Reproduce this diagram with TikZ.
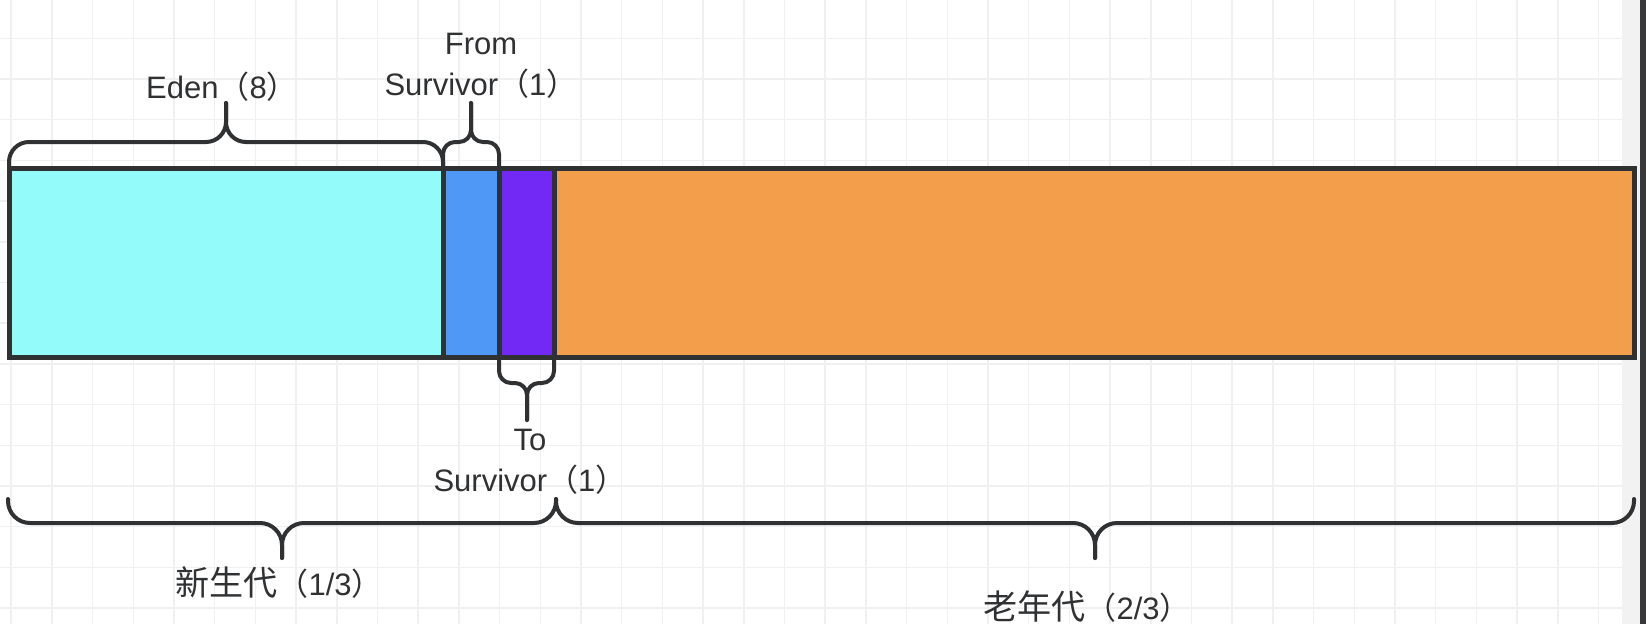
\documentclass[tikz,border=0pt]{standalone}
\usepackage{fontspec}
\setmainfont{Liberation Sans}
\newfontfamily\cjk{Noto Sans CJK SC}
\newfontfamily\cjkbig[Scale=1.1]{Noto Sans CJK SC}
\definecolor{edenc}{HTML}{93FBFA}
\definecolor{fromc}{HTML}{4F98F6}
\definecolor{toc}{HTML}{7329F5}
\definecolor{oldc}{HTML}{F29E4B}
\definecolor{ink}{HTML}{303133}
\definecolor{gridc}{HTML}{F0F0F0}
\definecolor{stripl}{HTML}{F2F2F2}
\definecolor{stripd}{HTML}{38383A}
\begin{document}
\begin{tikzpicture}[x=1pt,y=-1pt,
  seg/.style={draw=ink, line width=5pt, anchor=north west, inner sep=0pt, outer sep=0pt, minimum height=189.5pt},
  brace/.style={draw=ink, line width=4pt, line cap=round, line join=round},
  lbl/.style={text=ink, font=\fontsize{31}{41}\selectfont, inner sep=0pt},
  gridline/.style={draw=gridc, line width=1.5pt}]
\useasboundingbox (0,0) rectangle (1646,624);
% background
\fill[white] (0,0) rectangle (1622,624);
\foreach \i in {0,...,39} \draw[gridline] ({11.2+40.7*\i},0) -- ({11.2+40.7*\i},624);
\foreach \j in {1,...,15} \draw[gridline] (0,{-2.4+40.7*\j}) -- (1622,{-2.4+40.7*\j});
\fill[stripl] (1622,0) rectangle (1640,624);
\fill[stripd] (1640,0) rectangle (1646,624);
% segments
\node[seg, fill=edenc, minimum width=434pt] (eden) at (9,168) {};
\node[seg, fill=fromc, minimum width=56pt] (from) at (443,168) {};
\node[seg, fill=toc, minimum width=55pt] (to) at (499,168) {};
\node[seg, fill=oldc, minimum width=1080pt] (old) at (554,168) {};
% braces
\coordinate (edentip) at (226,103);
\coordinate (fromtip) at (471,103);
\coordinate (totip) at (527,420);
\coordinate (youngtip) at (282,558);
\coordinate (oldtip) at (1095,558);
\coordinate (youngL) at (8,499);
\coordinate (mid) at (556,499);
\coordinate (oldR) at (1634,499);
\draw[brace, rounded corners=20pt] ([yshift=-2pt]eden.north west) |- (edentip |- 0,142) -- (edentip);
\draw[brace, rounded corners=20pt] ([yshift=-2pt]eden.north east) |- (edentip |- 0,142) -- (edentip);
\draw[brace, rounded corners=12pt] ([yshift=-2pt]from.north west) |- (fromtip |- 0,142) -- (fromtip);
\draw[brace, rounded corners=12pt] ([yshift=-2pt]from.north east) |- (fromtip |- 0,142) -- (fromtip);
\draw[brace, rounded corners=12pt] ([yshift=2pt]to.south west) |- (totip |- 0,383) -- (totip);
\draw[brace, rounded corners=12pt] ([yshift=2pt]to.south east) |- (totip |- 0,383) -- (totip);
\draw[brace, rounded corners=22pt] (youngL) |- (youngtip |- 0,523) -- (youngtip);
\draw[brace, rounded corners=22pt] (mid) |- (youngtip |- 0,523) -- (youngtip);
\draw[brace, rounded corners=22pt] (mid) |- (oldtip |- 0,523) -- (oldtip);
\draw[brace, rounded corners=22pt] (oldR) |- (oldtip |- 0,523) -- (oldtip);
% labels
\node[lbl] (edenlbl) at (222,87) {Eden{\cjk （}8{\cjk ）}};
\node[lbl, align=center] (fromlbl) at (481,66) {From\\Survivor{\cjk （}1{\cjk ）}};
\node[lbl, align=center] (tolbl) at (530,462) {To\\Survivor{\cjk （}1{\cjk ）}};
\node[lbl] (younglbl) at (279,583) {{\cjkbig 新生代}{\cjk （}1/3{\cjk ）}};
\node[lbl] (oldlbl) at (1087,607) {{\cjkbig 老年代}{\cjk （}2/3{\cjk ）}};
\end{tikzpicture}
\end{document}
